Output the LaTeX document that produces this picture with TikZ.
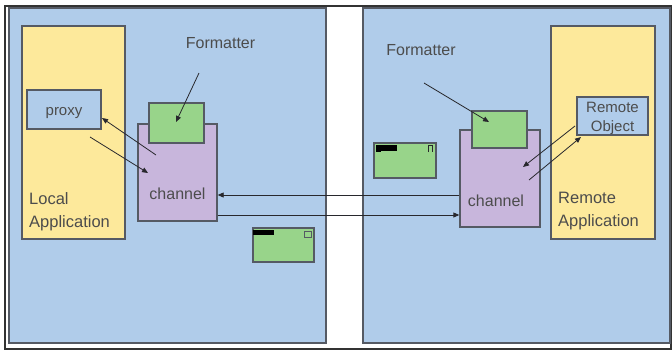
\documentclass[tikz,border=0pt]{standalone}
\usepackage{fontspec}
\setmainfont{Liberation Sans}
\usetikzlibrary{arrows.meta}
\definecolor{panelblue}{RGB}{176,204,234}
\definecolor{appyellow}{RGB}{253,233,155}
\definecolor{fmtgreen}{RGB}{152,212,138}
\definecolor{chpurple}{RGB}{200,182,220}
\definecolor{edgegray}{RGB}{85,90,100}
\definecolor{linedark}{RGB}{40,40,45}
\tikzset{
  box/.style={draw=edgegray, line width=1.3pt, rectangle, inner sep=0pt},
  panel/.style={box, fill=panelblue},
  appbox/.style={box, fill=appyellow},
  fmtbox/.style={box, fill=fmtgreen},
  chbox/.style={box, fill=chpurple},
  objbox/.style={box, fill=panelblue},
  lbl/.style={font=\fontsize{16}{18}\selectfont, text=black!70, inner sep=0pt},
  arr/.style={draw=linedark, line width=0.8pt, -{Triangle[length=6pt,width=5pt]}},
}
\begin{document}
\begin{tikzpicture}[x=1pt,y=-1pt]
\useasboundingbox (0,0) rectangle (672,351);
\fill[white] (0,0) rectangle (672,351);
\node[draw=black!80, line width=1.2pt, minimum width=666pt, minimum height=343pt, inner sep=0pt] (frame) at (338,177.5) {};
% panels
\node[panel, minimum width=317pt, minimum height=335pt] (lpanel) at (167.5,175.5) {};
\node[panel, minimum width=307pt, minimum height=335pt] (rpanel) at (516.5,175.5) {};
% applications
\node[appbox, minimum width=103pt, minimum height=213pt] (lapp) at (73.5,132.5) {};
\node[appbox, minimum width=104pt, minimum height=213pt] (rapp) at (603,132.5) {};
\node[lbl, align=left, anchor=north west, font=\fontsize{16.5}{23}\selectfont] (lapptext) at (29,192.5) {Local\\Application};
\node[lbl, align=left, anchor=north west, font=\fontsize{16.5}{23}\selectfont] (rapptext) at (558,192) {Remote\\Application};
% proxy and remote object
\node[objbox, minimum width=74pt, minimum height=39pt] (proxy) at (64,109.5) {};
\node[lbl, font=\fontsize{15}{17}\selectfont] (proxytext) at (64,113) {proxy};
\node[objbox, minimum width=71pt, minimum height=38pt] (robj) at (612.5,116) {};
\node[lbl, align=center, font=\fontsize{15}{19}\selectfont] (robjtext) at (612.5,118) {Remote\\Object};
% channels
\node[chbox, minimum width=79pt, minimum height=97pt] (lch) at (177.5,172.5) {};
\node[chbox, minimum width=80pt, minimum height=97pt] (rch) at (500,178.5) {};
\node[lbl] (lchtext) at (177.5,194) {channel};
\node[lbl] (rchtext) at (496,201) {channel};
% formatters
\node[fmtbox, minimum width=55pt, minimum height=40pt] (lfmt) at (176.5,123) {};
\node[fmtbox, minimum width=55pt, minimum height=37pt] (rfmt) at (499.5,129.5) {};
\node[lbl] (lfmttext) at (220.5,43) {Formatter};
\node[lbl] (rfmttext) at (421,50) {Formatter};
% loose formatter windows
\node[fmtbox, minimum width=61pt, minimum height=34pt] (lwin) at (283.5,245) {};
\node[fmtbox, minimum width=62pt, minimum height=35pt] (rwin) at (405,160.5) {};
\fill[black] (253,229.5) rectangle (274,235);
\draw[edgegray, line width=0.8pt] (304.5,231) rectangle (311.5,237);
\fill[black] (376,144.5) rectangle (397,150.5);
\fill[black] (376,144.5) rectangle (381,152);
\draw[linedark, line width=0.8pt] (428.5,152) -- (428.5,145.5) -- (432.5,145.5) -- (432.5,152);
% formatter pointers
\coordinate (lfs) at (199,73);
\coordinate (lfe) at (176,122);
\coordinate (rfs) at (424,83);
\coordinate (rfe) at (489,122);
\draw[arr] (lfs) -- (lfe);
\draw[arr] (rfs) -- (rfe);
% proxy <-> channel
\coordinate (lc1) at (156,155);
\coordinate (lp1) at (102,118);
\coordinate (lp2) at (90,137);
\coordinate (lc2) at (148,173);
\draw[arr] (lc1) -- (lp1);
\draw[arr] (lp2) -- (lc2);
% remote object <-> channel
\coordinate (ro1) at (575,126);
\coordinate (rc1) at (523,167);
\coordinate (rc2) at (529,180);
\coordinate (ro2) at (581,137);
\draw[arr] (ro1) -- (rc1);
\draw[arr] (rc2) -- (ro2);
% channel <-> channel
\draw[arr] (rch.west |- 0,195) -- (lch.east |- 0,195);
\draw[arr] (lch.east |- 0,215) -- (rch.west |- 0,215);
\end{tikzpicture}
\end{document}
